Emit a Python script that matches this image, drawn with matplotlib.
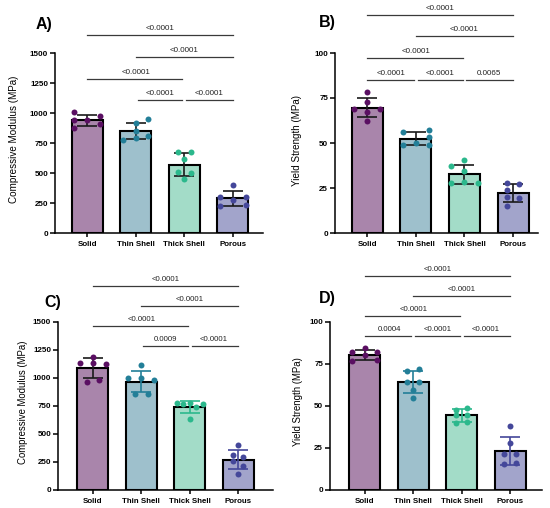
import numpy as np
import matplotlib
matplotlib.use("Agg")
from matplotlib import pyplot as plt

plt.rcParams["font.family"] = ["Liberation Sans", "DejaVu Sans"]

groups = ["Solid", "Thin Shell", "Thick Shell", "Porous"]
fill_colors = ["#a985ab", "#9ec0cc", "#a3dcc8", "#a2a4cb"]
dot_colors = ["#5a0f62", "#237f98", "#2bb88c", "#44479a"]

# measured values per group (Solid, Thin Shell, Thick Shell, Porous)
modulus_a = [
    [1006, 975, 940, 940, 912, 875],
    [950, 915, 850, 806, 778, 795],
    [672, 672, 617, 506, 500, 450],
    [397, 300, 278, 300, 222, 231],
]
yield_b = [
    [78.3, 73.0, 68.9, 68.9, 67.2, 62.0],
    [55.9, 57.4, 53.3, 49.1, 50.0, 49.1],
    [40.4, 37.0, 34.3, 27.8, 28.1, 27.8],
    [27.8, 27.2, 24.1, 19.8, 19.4, 14.8],
]
modulus_c = [
    [1187, 1133, 1133, 1127, 963, 984],
    [1112, 999, 1002, 978, 859, 859],
    [774, 768, 774, 738, 768, 634],
    [402, 312, 297, 259, 217, 143],
]
yield_d = [
    [84.7, 81.9, 81.9, 80.5, 76.7, 77.5],
    [71.8, 70.8, 64.2, 64.2, 59.6, 54.9],
    [47.9, 48.9, 44.7, 44.7, 39.8, 40.4],
    [38.0, 27.8, 21.5, 21.5, 15.5, 15.9],
]

# swarm slots (horizontal spread of the dots, in category units)
slots_a = [
    [-0.26, 0.26, -0.26, 0, 0.26, -0.26],
    [0.26, 0, 0, 0.26, -0.26, 0],
    [-0.13, 0.13, 0, -0.13, 0.13, 0],
    [0, -0.26, 0, 0.26, -0.26, 0.26],
]
slots_b = [
    [0, 0, -0.26, 0.26, 0, 0],
    [-0.27, 0.27, 0.27, -0.27, 0, 0.27],
    [0, -0.27, 0, -0.27, 0, 0.27],
    [-0.12, 0.12, -0.12, -0.12, 0.12, -0.12],
]
slots_c = [
    [0, -0.27, 0, 0.27, -0.13, 0.13],
    [0, -0.27, 0, 0.27, -0.13, 0.13],
    [-0.27, -0.13, 0, 0.13, 0.27, 0],
    [0, -0.11, 0.11, -0.11, 0.11, 0],
]
slots_d = [
    [0, -0.26, 0.26, 0, -0.26, 0.26],
    [0.12, -0.12, -0.12, 0.12, 0, 0],
    [-0.12, 0.12, -0.12, 0.12, -0.12, 0.12],
    [0, 0, -0.12, 0.12, -0.12, 0.12],
]

# multiple comparisons: (group i, group j, p-value label)
comparisons_a = [(0, 3, "<0.0001"), (1, 3, "<0.0001"), (0, 2, "<0.0001"),
                 (1, 2, "<0.0001"), (2, 3, "<0.0001")]
comparisons_b = [(0, 3, "<0.0001"), (1, 3, "<0.0001"), (0, 2, "<0.0001"),
                 (0, 1, "<0.0001"), (1, 2, "<0.0001"), (2, 3, "0.0065")]
comparisons_c = [(0, 3, "<0.0001"), (1, 3, "<0.0001"), (0, 2, "<0.0001"),
                 (1, 2, "0.0009"), (2, 3, "<0.0001")]
comparisons_d = [(0, 3, "<0.0001"), (1, 3, "<0.0001"), (0, 2, "<0.0001"),
                 (0, 1, "0.0004"), (1, 2, "<0.0001"), (2, 3, "<0.0001")]

# bracket heights (data units), top to bottom
levels_a = [1653, 1467, 1283, 1111]
levels_b = [121.3, 109.3, 97.2, 85.2]
levels_c = [1822, 1643, 1464, 1285]
levels_d = [127.2, 115.3, 103.4, 91.5]

W, H = 550, 508


def px_axes(fig, left, top, right, bottom):
    return fig.add_axes([left / W, 1 - bottom / H, (right - left) / W, (bottom - top) / H])


def draw_panel(fig, box, xlim, points, slots, comps, levels, ymax, yticks,
               ylabel, ylabel_xy, letter, letter_xy, colored_err, fs):
    ax = px_axes(fig, *box)
    x = np.arange(len(groups))
    means = [np.mean(p) for p in points]
    sds = [np.std(p, ddof=1) for p in points]
    ax.bar(x, means, width=0.64, color=fill_colors, edgecolor="black",
           linewidth=1.5, zorder=2)
    for i in range(len(groups)):
        ecol = dot_colors[i] if colored_err else "#1a1a1a"
        if i == 0:
            ecol = "#1a1a1a"
        ax.errorbar(x[i], means[i], yerr=sds[i], fmt="none", ecolor=ecol,
                    elinewidth=1.2, capsize=7, capthick=1.2, zorder=3)
        ax.plot(x[i] + np.array(slots[i]), points[i], linestyle="", marker="o",
                markersize=4.3, markeredgewidth=0, color=dot_colors[i], zorder=4)

    # significance brackets
    level_of = {(0, 3): 0, (1, 3): 1, (0, 2): 2}
    for i, j, label in comps:
        y = levels[level_of.get((i, j), 3)]
        x0 = i + (0.04 if i > 0 and (i, j) not in level_of else 0)
        x1 = j - (0.04 if j < 3 else 0)
        ax.plot([x0, x1], [y, y], color="#3a3a3a", linewidth=0.9,
                clip_on=False, zorder=5)
        ax.annotate(label, ((i + j) / 2, y), xytext=(0, 2.2),
                    textcoords="offset points", ha="center", va="bottom",
                    fontsize=fs, color="#222222", annotation_clip=False)

    ax.set_xlim(*xlim)
    ax.set_ylim(0, ymax)
    ax.set_yticks(yticks)
    ax.set_xticks(x)
    ax.set_xticklabels(groups, fontweight="bold", fontsize=5.7)
    for lab in ax.get_yticklabels():
        lab.set_fontweight("bold")
        lab.set_fontsize(5.8)
    ax.tick_params(axis="y", length=3.5, width=1.1, pad=1.5)
    ax.tick_params(axis="x", length=3, width=1.1, pad=3)
    for side in ("top", "right"):
        ax.spines[side].set_visible(False)
    for side in ("left", "bottom"):
        ax.spines[side].set_linewidth(1.1)

    fig.text(ylabel_xy[0] / W, 1 - ylabel_xy[1] / H, ylabel, rotation=90,
             ha="center", va="center", fontsize=fs + 1.3)
    fig.text(letter_xy[0] / W, 1 - letter_xy[1] / H, letter, ha="center",
             va="center", fontsize=11.5, fontweight="bold")
    return ax


def main():
    fig = plt.figure(figsize=(W / 100, H / 100), dpi=100)

    draw_panel(fig, (55, 53, 263, 233), (-0.66, 3.62), modulus_a, slots_a,
               comparisons_a, levels_a, 1500, [0, 250, 500, 750, 1000, 1250, 1500],
               "Compressive Modulus (MPa)", (14, 139), "A)", (44, 24), False, 5.8)
    draw_panel(fig, (335, 53, 538, 233), (-0.66, 3.51), yield_b, slots_b,
               comparisons_b, levels_b, 100, [0, 25, 50, 75, 100],
               "Yield Strength (MPa)", (297, 140), "B)", (327, 23), False, 5.8)
    draw_panel(fig, (58, 322, 273, 490), (-0.72, 3.72), modulus_c, slots_c,
               comparisons_c, levels_c, 1500, [0, 250, 500, 750, 1000, 1250, 1500],
               "Compressive Modulus (MPa)", (23, 402), "C)", (53, 303), True, 5.6)
    draw_panel(fig, (330, 322, 542, 490), (-0.72, 3.66), yield_d, slots_d,
               comparisons_d, levels_d, 100, [0, 25, 50, 75, 100],
               "Yield Strength (MPa)", (298, 402), "D)", (327, 298), True, 5.6)

    fig.savefig("out.png", dpi=100)


if __name__ == "__main__":
    main()
